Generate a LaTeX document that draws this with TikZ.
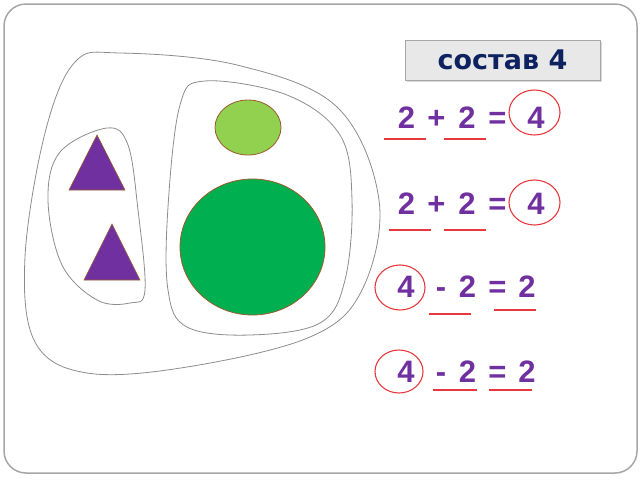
\documentclass[tikz,border=0pt]{standalone}
\usepackage{fontspec}
\setmainfont{Liberation Sans}
\newfontfamily\titlefont{DejaVu Sans}
\usetikzlibrary{shadows}
\definecolor{eqpurple}{HTML}{7030A0}
\definecolor{ringred}{HTML}{E8383D}
\definecolor{titlenavy}{HTML}{0E2260}
\definecolor{lightgreen}{HTML}{92D050}
\definecolor{darkgreen}{HTML}{00B050}
\definecolor{edgebrown}{HTML}{9A5A2A}
\definecolor{blobgray}{HTML}{8C8C8C}
\begin{document}
\begin{tikzpicture}[x=1pt, y=-1pt,
  blob/.style={draw=blobgray, line width=0.8pt},
  token/.style={text=eqpurple, inner sep=0pt, text height=22pt, text depth=0pt, font={\fontsize{31}{31}\selectfont\bfseries}},
  ring/.style={draw=ringred, line width=1.1pt},
  mark line/.style={draw=ringred, line width=2pt},
  titlebox/.style={rectangle, draw=gray!70, fill=gray!18, minimum width=195pt, minimum height=40pt, text=titlenavy, font={\titlefont\fontsize{27}{27}\selectfont\bfseries}, drop shadow={shadow xshift=2pt, shadow yshift=-2pt, fill=gray!60}}]
  \useasboundingbox (0,0) rectangle (640,480);
  \draw[gray!70, line width=1.5pt, rounded corners=22pt] (4,4) rectangle (637,473);

  % sets
  \draw[blob] plot[smooth cycle, tension=0.6] coordinates {(120,53) (237,65) (337,107) (379,200) (362,290) (310,337) (187,367) (87,373) (35,342) (25,257) (45,133) (75,62)};
  \draw[blob] plot[smooth cycle, tension=0.6] coordinates {(107,128) (128,145) (138,210) (145,290) (130,303) (97,300) (62,265) (48,200) (60,152)};
  \draw[blob] plot[smooth cycle, tension=0.6] coordinates {(205,81) (287,95) (340,135) (352,200) (345,280) (320,323) (250,335) (187,327) (168,290) (168,207) (180,105)};

  % shapes
  \draw[edgebrown, fill=eqpurple, line width=0.6pt] (97,135) -- (125,190) -- (69,190) -- cycle;
  \draw[edgebrown, fill=eqpurple, line width=0.6pt] (112,224) -- (140,280) -- (84,280) -- cycle;
  \draw[edgebrown, fill=lightgreen, line width=0.8pt] (248,127.5) ellipse (33 and 27.5);
  \draw[edgebrown, fill=darkgreen, line width=0.8pt] (252.5,247) ellipse (72.5 and 68);

  \node[titlebox] (title) at (502.5,60) {состав 4};

  % 2 + 2 = 4
  \node[token] (a1) at (406.5,117.5) {2};
  \node[token] (p1) at (436.5,117.5) {+};
  \node[token] (b1) at (467,117.5) {2};
  \node[token] (q1) at (497.5,117.5) {=};
  \node[token] (s1) at (536,117.5) {4};
  \draw[ring] (534.5,112.5) ellipse (25.5 and 22.5);
  \draw[mark line] (384,139) -- (426,139);
  \draw[mark line] (444,139) -- (486,139);

  \node[token] (a2) at (406.5,203) {2};
  \node[token] (p2) at (436.5,203) {+};
  \node[token] (b2) at (467,203) {2};
  \node[token] (q2) at (497.5,203) {=};
  \node[token] (s2) at (536,203) {4};
  \draw[ring] (534.5,202.5) ellipse (25.5 and 22.5);
  \draw[mark line] (389,230) -- (431,230);
  \draw[mark line] (444,230) -- (486,230);

  % 4 - 2 = 2
  \node[token] (a3) at (406,286) {4};
  \node[token] (m3) at (441,286) {-};
  \node[token] (b3) at (467.5,286) {2};
  \node[token] (q3) at (497.5,286) {=};
  \node[token] (s3) at (527,286) {2};
  \draw[ring] (400,287.5) ellipse (25 and 22.5);
  \draw[mark line] (429,314) -- (471,314);
  \draw[mark line] (494,310) -- (536,310);

  \node[token] (a4) at (406,371) {4};
  \node[token] (m4) at (441,371) {-};
  \node[token] (b4) at (467.5,371) {2};
  \node[token] (q4) at (497.5,371) {=};
  \node[token] (s4) at (527,371) {2};
  \draw[ring] (399,371.5) ellipse (24 and 21.5);
  \draw[mark line] (433,390) -- (477,390);
  \draw[mark line] (489,390) -- (532,390);
\end{tikzpicture}
\end{document}
